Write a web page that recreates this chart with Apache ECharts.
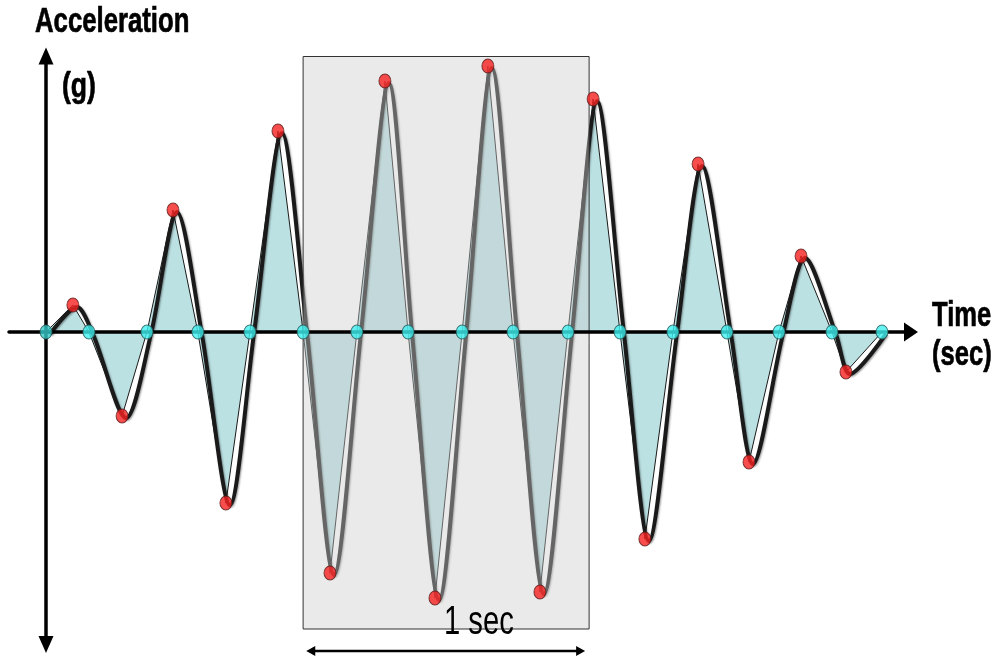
<!DOCTYPE html>
<html>
<head>
<meta charset="utf-8">
<script src="https://cdn.jsdelivr.net/npm/echarts@6/dist/echarts.min.js"></script>
<style>html,body{margin:0;padding:0;background:#fff}#c{width:1000px;height:664px}</style>
</head>
<body>
<div id="c"></div>
<script>
// Time (s) of each zero crossing / peak, and acceleration (g) at that point
const times = [0, 0.094, 0.150, 0.266, 0.353, 0.444, 0.531, 0.629, 0.713, 0.811, 0.899,
  0.993, 1.087, 1.185, 1.266, 1.360, 1.455, 1.545, 1.633, 1.727, 1.825, 1.913, 2.007,
  2.094, 2.192, 2.280, 2.381, 2.458, 2.563, 2.640, 2.748, 2.797, 2.923];
const accel = [0, 0.27, 0, -0.84, 0, 1.22, 0, -1.71, 0, 2.01, 0,
  -2.41, 0, 2.51, 0, -2.66, 0, 2.66, 0, -2.60, 0, 2.33, 0,
  -2.07, 0, 1.68, 0, -1.30, 0, 0.76, 0, -0.40, 0];
// highlighted 1-second window
const windowStart = 0.899, windowEnd = 1.899;
const windowTop = 2.755, windowBottom = -2.97;
// "1 sec" dimension arrow (tips), in data units
const dimStart = 0.910, dimEnd = 1.885, dimLevel = -3.19;
// axis ranges
const tMin = -0.1294, tMax = 3.0245, aMin = -3.125, aMax = 2.76;

const pts = times.map((t, i) => [t, accel[i]]);
const zeroPts = pts.filter(p => p[1] === 0);
const peakPts = pts.filter(p => p[1] !== 0);

const chart = echarts.init(document.getElementById('c'));
const axisCommon = {
  type: 'value', splitLine: {show: false}, axisTick: {show: false}, axisLabel: {show: false}
};
const boldFont = 'bold 35px "Liberation Sans", Arial, sans-serif';
const boldStyle = (t) => ({text: t, font: boldFont, fill: '#000', stroke: '#000', lineWidth: 0.7,
  textVerticalAlign: 'middle'});
chart.setOption({
  animation: false,
  backgroundColor: '#fff',
  grid: [
    {left: 9, right: 89, top: 56, bottom: 19.5},
    {left: 13, right: 85, top: 58, bottom: 17.5}
  ],
  xAxis: [
    Object.assign({}, axisCommon, {gridIndex: 0, min: tMin, max: tMax, z: 4.5,
      axisLine: {show: true, onZero: true, symbol: ['none', 'triangle'], symbolSize: [19, 14],
        lineStyle: {color: '#000', width: 3.5}}}),
    Object.assign({}, axisCommon, {gridIndex: 1, min: tMin, max: tMax, show: false})
  ],
  yAxis: [
    Object.assign({}, axisCommon, {gridIndex: 0, min: aMin, max: aMax, z: 4.5,
      axisLine: {show: true, onZero: true, symbol: ['triangle', 'triangle'], symbolSize: [15, 17],
        lineStyle: {color: '#000', width: 3.5}}}),
    Object.assign({}, axisCommon, {gridIndex: 1, min: aMin, max: aMax, show: false})
  ],
  series: [
    {
      type: 'line', xAxisIndex: 0, yAxisIndex: 0, z: 2,
      data: pts, showSymbol: false, smooth: false,
      lineStyle: {color: '#1a1a1a', width: 1},
      areaStyle: {color: '#bce1e3', opacity: 1}
    },
    {
      type: 'line', xAxisIndex: 1, yAxisIndex: 1, z: 3,
      data: pts, showSymbol: false, smooth: 0.3,
      lineStyle: {color: '#1a1a1a', width: 4, shadowColor: 'rgba(0,0,0,0.4)', shadowBlur: 2,
        shadowOffsetX: 1, shadowOffsetY: 1}
    },
    {
      type: 'custom', xAxisIndex: 0, yAxisIndex: 0, z: 4,
      data: [[windowStart, windowTop, windowEnd, windowBottom]],
      encode: {x: [0, 2], y: [1, 3]},
      renderItem: function (params, api) {
        const p1 = api.coord([api.value(0), api.value(1)]);
        const p2 = api.coord([api.value(2), api.value(3)]);
        return {type: 'rect', shape: {x: p1[0], y: p1[1], width: p2[0] - p1[0], height: p2[1] - p1[1]},
          style: {fill: 'rgba(205,205,205,0.42)', stroke: '#333', lineWidth: 1}};
      }
    },
    {
      type: 'scatter', xAxisIndex: 0, yAxisIndex: 0, z: 5,
      data: zeroPts.map((p, i) => ({value: p, itemStyle: {color: i === 0 ? '#36c8c8' : '#3ff0f0'}})),
      symbol: 'circle', symbolSize: [12, 14],
      itemStyle: {borderColor: '#2a5a5a', borderWidth: 1}
    },
    {
      type: 'scatter', xAxisIndex: 0, yAxisIndex: 0, z: 5,
      data: peakPts, symbol: 'circle', symbolSize: [12, 14],
      itemStyle: {color: '#f52020', borderColor: '#5a1a1a', borderWidth: 1}
    }
  ]
});

// dimension arrow placed through the chart's own scale
const a = chart.convertToPixel({gridIndex: 0}, [dimStart, dimLevel]);
const b = chart.convertToPixel({gridIndex: 0}, [dimEnd, dimLevel]);
const head = 9, half = 5;
chart.setOption({
  graphic: [
    {type: 'line', z: 10, shape: {x1: a[0] + head - 1, y1: a[1], x2: b[0] - head + 1, y2: b[1]},
      style: {stroke: '#000', lineWidth: 2.5}},
    {type: 'polygon', z: 10, shape: {points: [[a[0], a[1]], [a[0] + head, a[1] - half], [a[0] + head, a[1] + half]]},
      style: {fill: '#000'}},
    {type: 'polygon', z: 10, shape: {points: [[b[0], b[1]], [b[0] - head, b[1] - half], [b[0] - head, b[1] + half]]},
      style: {fill: '#000'}},
    {type: 'text', x: 35, y: 22, scaleX: 0.735, z: 10, style: boldStyle('Acceleration')},
    {type: 'text', x: 62, y: 87, scaleX: 0.76, z: 10, style: boldStyle('(g)')},
    {type: 'text', x: 932, y: 316, scaleX: 0.73, z: 10, style: boldStyle('Time')},
    {type: 'text', x: 932, y: 355, scaleX: 0.73, z: 10, style: boldStyle('(sec)')},
    {type: 'text', x: 444, y: 623, scaleX: 0.73, z: 10,
      style: {text: '1 sec', font: '40px "Liberation Sans", Arial, sans-serif', fill: '#000', textVerticalAlign: 'middle'}}
  ]
});
</script>
</body>
</html>
